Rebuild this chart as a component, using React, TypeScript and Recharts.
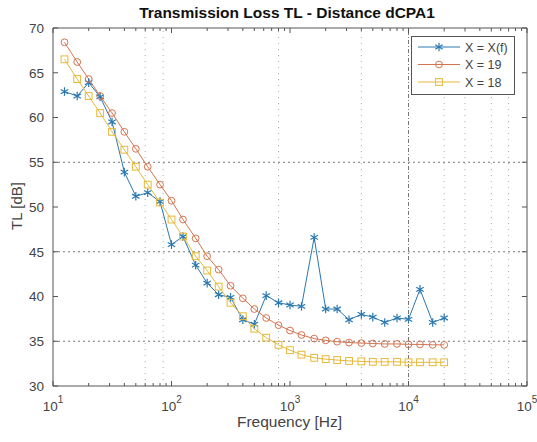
import React from 'react';
import { LineChart, Line, XAxis, YAxis, ReferenceLine, Legend } from 'recharts';

const freqs = [12.5, 16, 20, 25, 31.5, 40, 50, 63, 80, 100, 125, 160, 200, 250, 315, 400, 500, 630, 800, 1000, 1250, 1600, 2000, 2500, 3150, 4000, 5000, 6300, 8000, 10000, 12500, 16000, 20000];
const tlXf = [62.9, 62.4, 63.9, 62.3, 59.5, 53.9, 51.2, 51.6, 50.6, 45.8, 46.7, 43.5, 41.5, 40.2, 39.9, 37.4, 36.9, 40.1, 39.3, 39.05, 38.9, 46.6, 38.6, 38.6, 37.4, 38.0, 37.7, 37.1, 37.6, 37.45, 40.8, 37.1, 37.6];
const tl19 = [68.4, 66.2, 64.3, 62.4, 60.5, 58.4, 56.5, 54.5, 52.5, 50.7, 48.6, 46.5, 44.5, 43.0, 41.2, 39.8, 38.6, 37.6, 36.8, 36.2, 35.7, 35.3, 35.1, 34.95, 34.85, 34.8, 34.75, 34.7, 34.7, 34.65, 34.65, 34.6, 34.6];
const tl18 = [66.5, 64.3, 62.4, 60.5, 58.4, 56.4, 54.5, 52.5, 50.5, 48.6, 46.7, 44.5, 42.9, 41.1, 39.3, 37.8, 36.4, 35.4, 34.6, 34.0, 33.5, 33.15, 33.0, 32.9, 32.8, 32.75, 32.7, 32.7, 32.7, 32.65, 32.65, 32.65, 32.65];
const seriesNames = ['X = X(f)', 'X = 19', 'X = 18'];
const yTicks = [30, 35, 40, 45, 50, 55, 60, 65, 70];
const xDecades = [10, 100, 1000, 10000, 100000];
const minorMultipliers = [2, 3, 4, 5, 6, 7, 8, 9];
const hGridValues = [35, 45, 55];
const vGridFreqs = [60, 85, 800, 4000, 20000, 30000, 50000, 70000];
const vGridMajor = [10000];

const data = freqs.map((f, i) => ({ f, a: tlXf[i], b: tl19[i], c: tl18[i] }));
const xTicks: number[] = [];
xDecades.forEach((d, i) => {
  xTicks.push(d);
  if (i < xDecades.length - 1) minorMultipliers.forEach((m) => xTicks.push(m * d));
});

const BLUE = '#2a78b0';
const ORANGE = '#d3744f';
const YELLOW = '#e6b93a';
const AXIS = '#555';
const TXT = '#444';
const FONT = '"Liberation Sans", Arial, Helvetica, sans-serif';

const isMajor = (v: number) => {
  const l = Math.log10(v);
  return Math.abs(l - Math.round(l)) < 1e-6;
};

const BottomTick = (p: any) => {
  const { x, y, payload } = p;
  const v = payload.value;
  const major = isMajor(v);
  return (
    <g>
      <line x1={x} x2={x} y1={y} y2={y - (major ? 5 : 3)} stroke={AXIS} strokeWidth={1} />
      {major && (
        <text x={x} y={y + 25} textAnchor="middle" fontSize={13.5} fill={TXT} fontFamily={FONT}>
          10<tspan dy={-8} fontSize={10}>{Math.round(Math.log10(v))}</tspan>
        </text>
      )}
    </g>
  );
};

const TopTick = (p: any) => {
  const { x, y, payload } = p;
  const major = isMajor(payload.value);
  return <line x1={x} x2={x} y1={y} y2={y + (major ? 5 : 3)} stroke={AXIS} strokeWidth={1} />;
};

const LeftTick = (p: any) => {
  const { x, y, payload } = p;
  return (
    <g>
      <line x1={x} x2={x + 5} y1={y} y2={y} stroke={AXIS} strokeWidth={1} />
      <text x={x - 9} y={y} dy="0.36em" textAnchor="end" fontSize={13.5} fill={TXT} fontFamily={FONT}>
        {payload.value}
      </text>
    </g>
  );
};

const RightTick = (p: any) => {
  const { x, y } = p;
  return <line x1={x} x2={x - 5} y1={y} y2={y} stroke={AXIS} strokeWidth={1} />;
};

const Asterisk = ({ cx, cy, color }: any) => {
  const r = 4.3;
  const s = r * Math.sin(Math.PI / 3);
  const c = r * Math.cos(Math.PI / 3);
  return (
    <g stroke={color} strokeWidth={1.2}>
      <line x1={cx} y1={cy - r} x2={cx} y2={cy + r} />
      <line x1={cx - s} y1={cy - c} x2={cx + s} y2={cy + c} />
      <line x1={cx - s} y1={cy + c} x2={cx + s} y2={cy - c} />
    </g>
  );
};
const Circle = ({ cx, cy, color }: any) => <circle cx={cx} cy={cy} r={3.4} fill="none" stroke={color} strokeWidth={1} />;
const Square = ({ cx, cy, color }: any) => <rect x={cx - 3.4} y={cy - 3.4} width={6.8} height={6.8} fill="none" stroke={color} strokeWidth={1} />;

const markers = [Asterisk, Circle, Square];
const colors = [BLUE, ORANGE, YELLOW];
const keys = ['a', 'b', 'c'];

const LegendContent = () => (
  <svg width={104} height={59} style={{ display: 'block' }}>
    <rect x={0.5} y={0.5} width={103} height={58} fill="#fff" stroke={AXIS} strokeWidth={1} />
    {seriesNames.map((name, i) => {
      const M = markers[i];
      const cy = 11 + i * 17.5;
      return (
        <g key={name}>
          <line x1={7} x2={49} y1={cy} y2={cy} stroke={colors[i]} strokeWidth={1} />
          <M cx={28} cy={cy} color={colors[i]} />
          <text x={54} y={cy} dy="0.36em" fontSize={12.5} fill={TXT} fontFamily={FONT}>
            {name}
          </text>
        </g>
      );
    })}
  </svg>
);

export default function App() {
  return (
    <div style={{ position: 'absolute', left: 0, top: 0, width: 537, height: 442, background: '#fff', fontFamily: FONT }}>
      <LineChart width={537} height={442} data={data} margin={{ top: 23, right: 5, bottom: 26, left: 13 }}>
        <XAxis
          xAxisId="bottom"
          dataKey="f"
          type="number"
          scale="log"
          domain={[10, 100000]}
          allowDataOverflow
          ticks={xTicks}
          interval={0}
          height={30}
          tickSize={0}
          tickMargin={0}
          tick={<BottomTick />}
          axisLine={{ stroke: AXIS, strokeWidth: 1 }}
        />
        <XAxis
          xAxisId="top"
          orientation="top"
          dataKey="f"
          type="number"
          scale="log"
          domain={[10, 100000]}
          allowDataOverflow
          ticks={xTicks}
          interval={0}
          height={5}
          tickSize={0}
          tickMargin={0}
          tick={<TopTick />}
          axisLine={{ stroke: AXIS, strokeWidth: 1 }}
        />
        <YAxis
          yAxisId="left"
          type="number"
          domain={[30, 70]}
          allowDataOverflow
          ticks={yTicks}
          interval={0}
          width={40}
          tickSize={0}
          tickMargin={0}
          tick={<LeftTick />}
          axisLine={{ stroke: AXIS, strokeWidth: 1 }}
        />
        <YAxis
          yAxisId="right"
          orientation="right"
          type="number"
          domain={[30, 70]}
          allowDataOverflow
          ticks={yTicks}
          interval={0}
          width={5}
          tickSize={0}
          tickMargin={0}
          tick={<RightTick />}
          axisLine={{ stroke: AXIS, strokeWidth: 1 }}
        />
        {hGridValues.map((v) => (
          <ReferenceLine key={`h${v}`} xAxisId="bottom" yAxisId="left" y={v} stroke="#777" strokeDasharray="2 3" strokeWidth={1} />
        ))}
        {vGridFreqs.map((v) => (
          <ReferenceLine key={`v${v}`} xAxisId="bottom" yAxisId="left" x={v} stroke="#aaa" strokeDasharray="1 5" strokeWidth={1} />
        ))}
        {vGridMajor.map((v) => (
          <ReferenceLine key={`vm${v}`} xAxisId="bottom" yAxisId="left" x={v} stroke="#777" strokeDasharray="4 2 1 2" strokeWidth={1} />
        ))}
        {keys.map((k, i) => {
          const M = markers[i];
          return (
            <Line
              key={k}
              xAxisId="bottom"
              yAxisId="left"
              dataKey={k}
              name={seriesNames[i]}
              stroke={colors[i]}
              strokeWidth={1}
              isAnimationActive={false}
              dot={(p: any) => <M key={`${k}-${p.index}`} cx={p.cx} cy={p.cy} color={colors[i]} />}
              activeDot={false}
            />
          );
        })}
        <Legend
          layout="vertical"
          verticalAlign="middle"
          align="center"
          content={<LegendContent />}
          wrapperStyle={{ left: 411, top: 36, width: 104, height: 59 }}
        />
      </LineChart>
      <div style={{ position: 'absolute', left: 0, width: 537, top: 4, textAlign: 'center', paddingLeft: 37, boxSizing: 'border-box', fontWeight: 'bold', fontSize: 15.5, color: '#111', whiteSpace: 'nowrap' }}>
        Transmission Loss TL - Distance dCPA1
      </div>
      <div style={{ position: 'absolute', left: 0, width: 537, top: 413, textAlign: 'center', paddingLeft: 42, boxSizing: 'border-box', fontSize: 15.5, color: TXT }}>
        Frequency [Hz]
      </div>
      <div style={{ position: 'absolute', left: 16, top: 206, transform: 'translate(-50%, -50%) rotate(-90deg)', fontSize: 15, color: TXT, whiteSpace: 'nowrap' }}>
        TL [dB]
      </div>
    </div>
  );
}
